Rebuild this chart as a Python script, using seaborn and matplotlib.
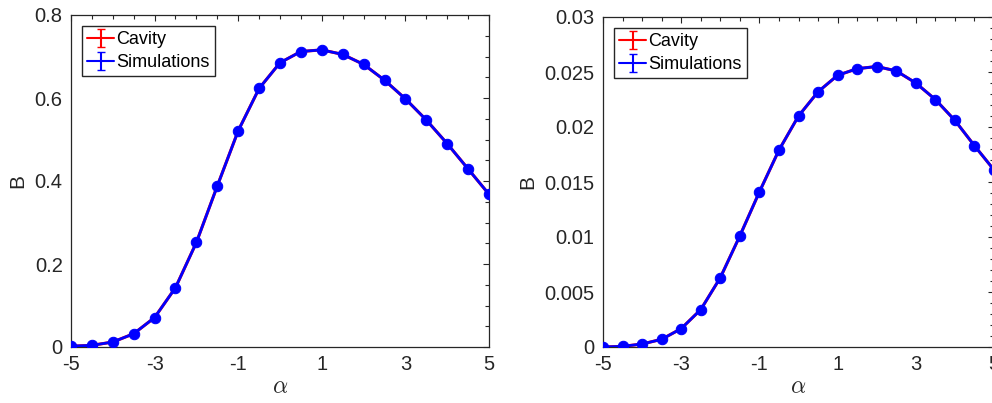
import numpy as np
import pandas as pd
import matplotlib
matplotlib.use("Agg")
import matplotlib.pyplot as plt
from matplotlib.ticker import FixedLocator, FixedFormatter, MultipleLocator
import seaborn as sns

# ---- data ----
alpha = [-5, -4.5, -4, -3.5, -3, -2.5, -2, -1.5, -1, -0.5, 0,
         0.5, 1, 1.5, 2, 2.5, 3, 3.5, 4, 4.5, 5]
B_left = [0.002, 0.004, 0.012, 0.032, 0.071, 0.143, 0.252, 0.388, 0.521, 0.623, 0.685,
          0.712, 0.716, 0.705, 0.681, 0.643, 0.598, 0.547, 0.490, 0.429, 0.368]
B_right = [0.0000, 0.00006, 0.00027, 0.0007, 0.00167, 0.0034, 0.0063, 0.0101, 0.0141, 0.0179, 0.0210,
           0.0232, 0.0247, 0.0253, 0.0255, 0.0251, 0.0240, 0.0225, 0.0206, 0.0183, 0.0161]
xticks = [-5, -3, -1, 1, 3, 5]
xticklabels = ["-5", "-3", "-1", "1", "3", "5"]
yticks_left = [0, 0.2, 0.4, 0.6, 0.8]
yticklabels_left = ["0", "0.2", "0.4", "0.6", "0.8"]
yticks_right = [0, 0.005, 0.01, 0.015, 0.02, 0.025, 0.03]
yticklabels_right = ["0", "0.005", "0.01", "0.015", "0.02", "0.025", "0.03"]
series_names = ["Cavity", "Simulations"]

sns.set_style("white")
plt.rcParams["font.family"] = ["Liberation Sans", "DejaVu Sans"]
plt.rcParams["mathtext.fontset"] = "cm"

TXT = "#262626"
fig = plt.figure(figsize=(9.92, 4.03), dpi=100)
axL = fig.add_axes([71 / 992, 56 / 403, 418 / 992, 332 / 403])
axR = fig.add_axes([603 / 992, 56 / 403, 391 / 992, 330 / 403])


def draw(ax, y, yticks, ylabels, ylim, ymin_step, xminor=0.5):
    df = pd.DataFrame({"alpha": alpha, "B": y})
    sns.lineplot(data=df, x="alpha", y="B", ax=ax, color="red", linewidth=2.2, zorder=2)
    sns.lineplot(data=df, x="alpha", y="B", ax=ax, color="blue", linewidth=2.0, zorder=3,
                 marker="o", markersize=7.5, markeredgecolor="blue", markerfacecolor="blue")
    ax.set_xlim(-5, 5)
    ax.set_ylim(*ylim)
    ax.xaxis.set_major_locator(FixedLocator(xticks))
    ax.xaxis.set_major_formatter(FixedFormatter(xticklabels))
    ax.yaxis.set_major_locator(FixedLocator(yticks))
    ax.yaxis.set_major_formatter(FixedFormatter(ylabels))
    ax.xaxis.set_minor_locator(MultipleLocator(xminor))
    ax.yaxis.set_minor_locator(MultipleLocator(ymin_step))
    ax.tick_params(which="both", direction="in", top=True, right=True, color=TXT,
                   width=0.8, labelsize=14.5, labelcolor=TXT)
    ax.tick_params(axis="x", which="major", pad=6)
    ax.tick_params(axis="y", which="major", pad=6)
    ax.tick_params(which="major", length=4.5)
    ax.tick_params(which="minor", length=2.8)
    for s in ax.spines.values():
        s.set_color(TXT)
        s.set_linewidth(0.9)
    ax.set_xlabel(r"$\alpha$", fontsize=17, color=TXT, labelpad=1)
    ax.set_ylabel("B", fontsize=15, color=TXT, labelpad=5)
    # legend handles (errorbar style, as in the reference)
    h1 = ax.errorbar([np.nan], [np.nan], yerr=[np.nan], color="red", capsize=3,
                     linewidth=1.5, label=series_names[0])
    h2 = ax.errorbar([np.nan], [np.nan], yerr=[np.nan], color="blue", capsize=3,
                     linewidth=1.5, label=series_names[1])
    leg = ax.legend(handles=[h1, h2], loc="upper left", fontsize=13, frameon=True,
                    fancybox=False, edgecolor=TXT, framealpha=1, borderaxespad=0.6,
                    handlelength=1.5, handletextpad=0.1, labelspacing=0.32, borderpad=0.3)
    leg.get_frame().set_linewidth(1.0)
    for t in leg.get_texts():
        t.set_color("black")


draw(axL, B_left, yticks_left, yticklabels_left, (0, 0.8), 0.05)
draw(axR, B_right, yticks_right, yticklabels_right, (0, 0.03), 0.001)

fig.savefig("out.png", dpi=100)
